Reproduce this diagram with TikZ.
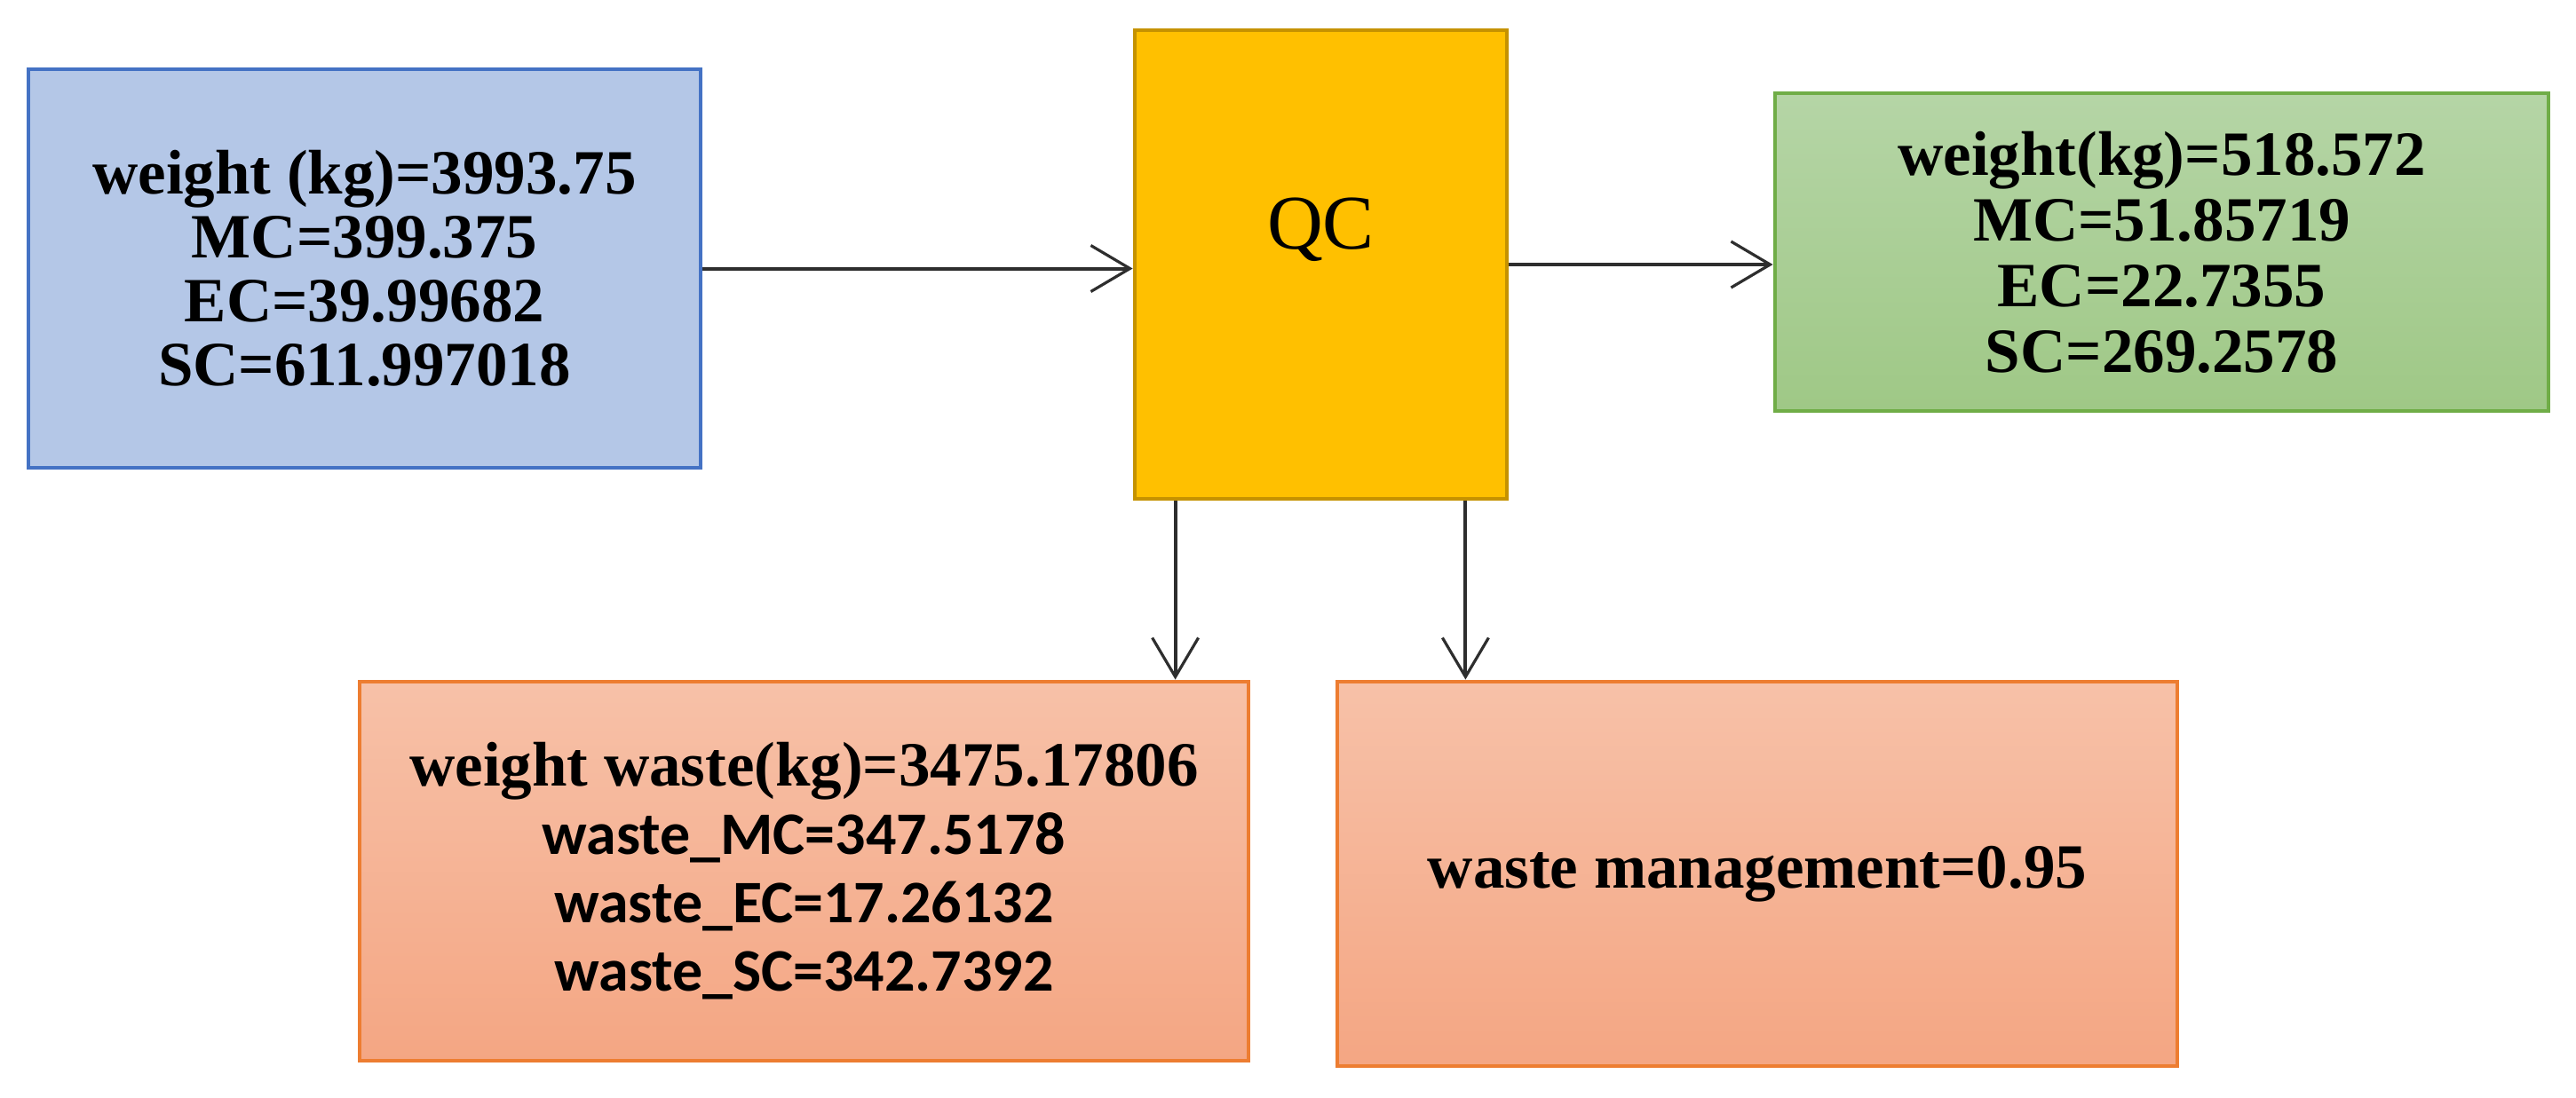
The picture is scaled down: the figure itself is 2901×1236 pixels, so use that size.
\documentclass[tikz,border=0pt]{standalone}
\usepackage{fontspec}
\setmainfont{Liberation Serif}
\newfontfamily\carl{Carlito}
\usetikzlibrary{arrows.meta}
\definecolor{bluefill}{HTML}{B4C7E7}
\definecolor{blueline}{HTML}{4472C4}
\definecolor{qcfill}{HTML}{FFC000}
\definecolor{qcline}{HTML}{C59200}
\definecolor{greentop}{HTML}{B5D5A6}
\definecolor{greenbot}{HTML}{9FC886}
\definecolor{greenline}{HTML}{70AD47}
\definecolor{oratop}{HTML}{F7C1A8}
\definecolor{orabot}{HTML}{F4A683}
\definecolor{oraline}{HTML}{ED7D31}
\definecolor{arrowcol}{HTML}{2E2E2E}
\tikzset{
  box/.style={draw, line width=1.2pt, inner sep=0pt, align=center, text=black},
  arr/.style={draw=arrowcol, line width=1pt, -{Straight Barb[length=11pt,width=13pt,line width=0.8pt]}},
  valtext/.style={font=\fontsize{17.75pt}{18pt}\selectfont\bfseries},
}
\begin{document}
\begin{tikzpicture}[x=0.25pt,y=-0.25pt]
\useasboundingbox (0,0) rectangle (2901,1236);

\node[box, valtext, draw=blueline, fill=bluefill, minimum width=189.25pt, minimum height=112.25pt]
  (blue) at (410.5,302.5) {weight (kg)=3993.75\\MC=399.375\\EC=39.99682\\SC=611.997018};

\node[box, draw=qcline, fill=qcfill, minimum width=104.75pt, minimum height=132pt,
  font=\fontsize{21.75pt}{26pt}\selectfont, text height=15pt, text depth=24pt]
  (qc) at (1487.5,298) {QC};

\node[box, font=\fontsize{17.75pt}{18.5pt}\selectfont\bfseries, draw=greenline, top color=greentop, bottom color=greenbot,
  minimum width=217.75pt, minimum height=89.5pt]
  (green) at (2434.5,284) {weight(kg)=518.572\\MC=51.85719\\EC=22.7355\\SC=269.2578};

\node[box, font=\fontsize{17.75pt}{19.25pt}\selectfont\bfseries, draw=oraline, top color=oratop, bottom color=orabot,
  minimum width=250.25pt, minimum height=106.75pt]
  (waste) at (905.5,981.5) {weight waste(kg)=3475.17806\\
  {\carl\fontsize{17pt}{19.25pt}\selectfont\bfseries waste\_MC=347.5178}\\
  {\carl\fontsize{17pt}{19.25pt}\selectfont\bfseries waste\_EC=17.26132}\\
  {\carl\fontsize{17pt}{19.25pt}\selectfont\bfseries waste\_SC=342.7392}};

\node[box, valtext, draw=oraline, top color=oratop, bottom color=orabot,
  minimum width=236.5pt, minimum height=108.25pt]
  (mgmt) at (1979,984.5) {waste management=0.95};

\coordinate (d1) at ([xshift=12pt]qc.south west);
\coordinate (d2) at ([xshift=-12.25pt]qc.south east);

\draw[arr] (blue.east) -- (blue.east -| qc.west);
\draw[arr] (qc.east) -- (qc.east -| green.west);
\draw[arr] (d1) -- (d1 |- waste.north);
\draw[arr] (d2) -- (d2 |- mgmt.north);
\end{tikzpicture}
\end{document}
